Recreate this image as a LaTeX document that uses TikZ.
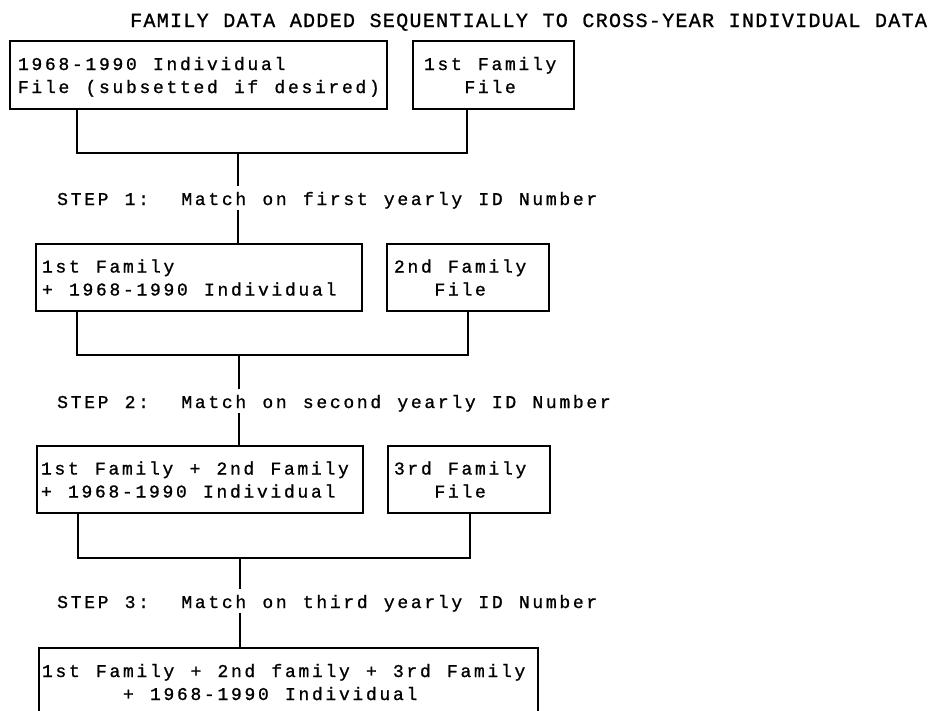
\documentclass[tikz,border=0pt]{standalone}
\usepackage{fontspec}
\newfontfamily\plotfont[LetterSpace=15,FakeBold=1]{Liberation Mono}
\newfontfamily\plotheadfont[LetterSpace=6.5,FakeBold=1]{Liberation Mono}
\newlength\pitch
\setlength\pitch{13.5pt}
\newcommand\bodyfont{\plotfont\fontsize{18}{23}\selectfont}
\newcommand\headfont{\plotheadfont\fontsize{20}{24}\selectfont}
\newcommand\ind[1]{\hspace*{#1\pitch}}
\begin{document}
\begin{tikzpicture}[x=1pt,y=-1pt,
  fbox/.style={draw, line width=2pt, anchor=north west, align=left, font=\bodyfont,
    inner ysep=0pt, text height=13pt, text depth=23pt,
    execute at begin node={\spaceskip=16.2pt\relax\xspaceskip=16.2pt\relax}},
  steptext/.style={anchor=base west, font=\bodyfont, inner xsep=0pt, inner ysep=5pt,
    text height=14pt, text depth=0pt,
    execute at begin node={\spaceskip=16.2pt\relax\xspaceskip=16.2pt\relax}},
  headtext/.style={anchor=base west, font=\headfont, inner sep=0pt,
    execute at begin node={\spaceskip=14.6pt\relax\xspaceskip=14.6pt\relax}},
  link/.style={line width=1.8pt}]
\useasboundingbox (0,0) rectangle (932,710);
\clip (0,0) rectangle (932,710);

\node[headtext] (title) at (130,27)
  {FAMILY DATA ADDED SEQUENTIALLY TO CROSS-YEAR INDIVIDUAL DATA};

\node[fbox, minimum width=377pt, minimum height=68pt, inner xsep=8pt, text width=361pt] (b1) at (9,40)
  {1968-1990 Individual\\File (subsetted if desired)};
\node[fbox, minimum width=161pt, minimum height=68pt, inner xsep=11pt, text width=139pt] (b2) at (412,40)
  {1st Family\\\ind{3}File};

\node[fbox, minimum width=326pt, minimum height=67pt, inner xsep=6pt, text width=314pt] (b3) at (35,243)
  {1st Family\\+ 1968-1990 Individual};
\node[fbox, minimum width=162pt, minimum height=67pt, inner xsep=7pt, text width=148pt] (b4) at (386,243)
  {2nd Family\\\ind{3}File};

\node[fbox, minimum width=326pt, minimum height=67pt, inner xsep=4pt, text width=318pt] (b5) at (36,445)
  {1st Family + 2nd Family\\+ 1968-1990 Individual};
\node[fbox, minimum width=162pt, minimum height=67pt, inner xsep=6pt, text width=150pt] (b6) at (387,445)
  {3rd Family\\\ind{3}File};

\node[fbox, minimum width=499pt, minimum height=68pt, inner xsep=3pt, text width=493pt] (b7) at (38,647)
  {1st Family + 2nd family + 3rd Family\\\ind{6}+ 1968-1990 Individual};

\node[steptext] (s1) at (57,205) {STEP 1:\ \ Match on first yearly ID Number};
\node[steptext] (s2) at (57,408) {STEP 2:\ \ Match on second yearly ID Number};
\node[steptext] (s3) at (57,608) {STEP 3:\ \ Match on third yearly ID Number};

\coordinate (l1) at (77,153); \coordinate (j1) at (238,153); \coordinate (r1) at (467,153);
\coordinate (l2) at (77,355); \coordinate (j2) at (239,355); \coordinate (r2) at (468,355);
\coordinate (l3) at (78,558); \coordinate (j3) at (240,558); \coordinate (r3) at (470,558);

\draw[link] (l1 |- b1.south) -- (l1) -- (r1) -- (r1 |- b2.south);
\draw[link] (j1) -- (j1 |- s1.north);
\draw[link] (j1 |- s1.south) -- (j1 |- b3.north);

\draw[link] (l2 |- b3.south) -- (l2) -- (r2) -- (r2 |- b4.south);
\draw[link] (j2) -- (j2 |- s2.north);
\draw[link] (j2 |- s2.south) -- (j2 |- b5.north);

\draw[link] (l3 |- b5.south) -- (l3) -- (r3) -- (r3 |- b6.south);
\draw[link] (j3) -- (j3 |- s3.north);
\draw[link] (j3 |- s3.south) -- (j3 |- b7.north);
\end{tikzpicture}
\end{document}
